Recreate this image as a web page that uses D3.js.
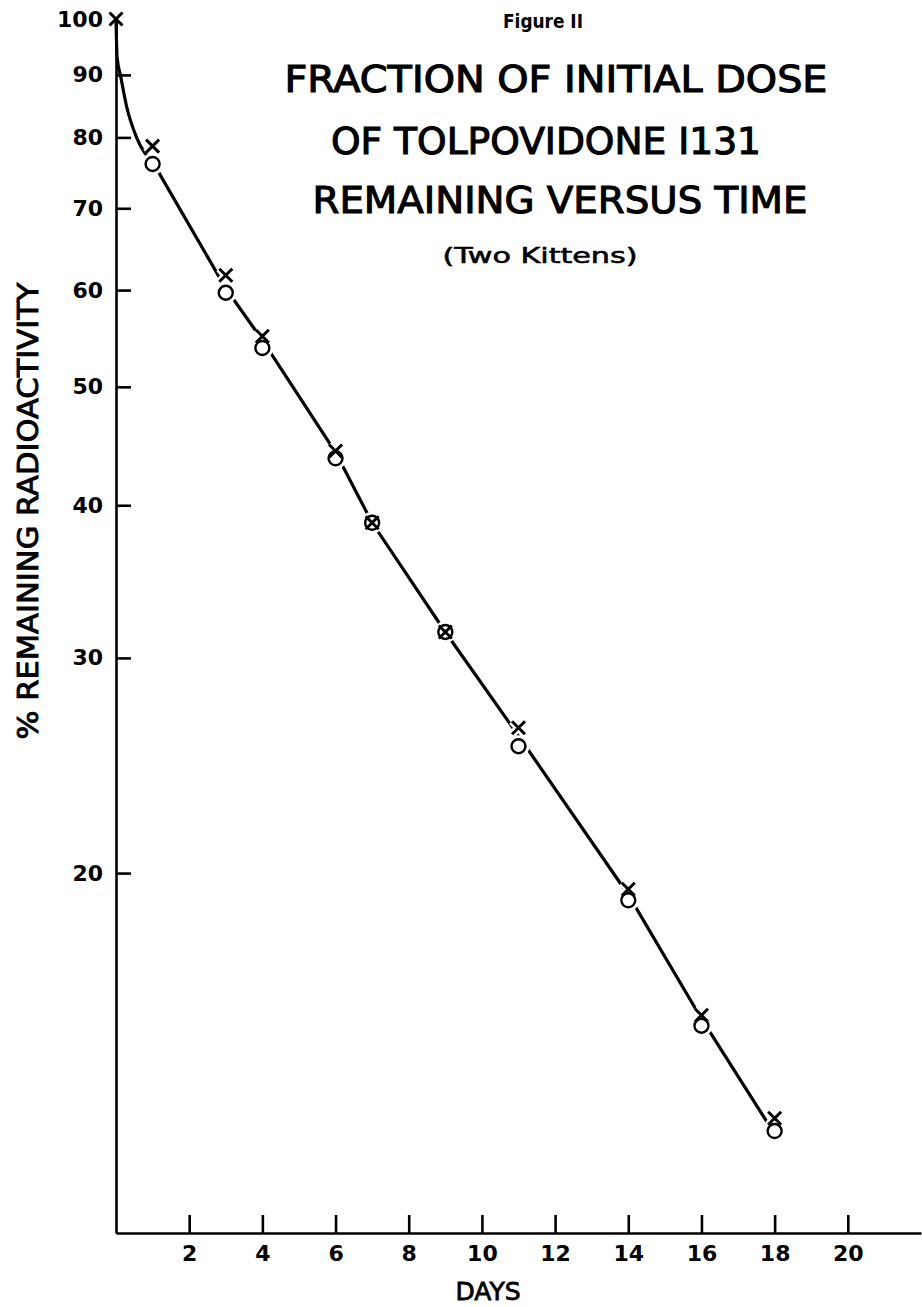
<!DOCTYPE html>
<html>
<head>
<meta charset="utf-8">
<script src="https://cdn.jsdelivr.net/npm/d3@7"></script>
<style>
  body { margin: 0; background: #fff; }
  svg text { font-family: "DejaVu Sans", sans-serif; fill: #000; }
</style>
</head>
<body>
<svg id="chart"></svg>
<script>
// data
var days = [1, 3, 4, 6, 7, 9, 11, 14, 16, 18];
var kittenX = [78.7, 61.7, 55.0, 44.3, 38.7, 31.5, 26.3, 19.4, 15.3, 12.6];   // "x" marks
var kittenO = [76.1, 59.7, 53.8, 43.7, 38.7, 31.5, 25.4, 19.0, 15.0, 12.3];   // circles
var startDay = 0, startValue = 100;

// hand drawn fit line: early curve, then straight pieces
var curveDays = [0, 0.03, 0.13, 0.29, 0.57, 1];
var curveVals = [100, 93, 89.7, 84.8, 79.9, 76.4];
var fitDays = [1, 3, 4, 6, 7, 9, 11, 14, 16, 17.8];
var fitVals = [76.4, 60.2, 54.6, 44.2, 38.7, 31.5, 25.9, 19.2, 15.2, 12.5];

var yTicks = [20, 30, 40, 50, 60, 70, 80, 90, 100];
var xTicks = [2, 4, 6, 8, 10, 12, 14, 16, 18, 20];

var titleLines = ["FRACTION OF INITIAL DOSE", "OF TOLPOVIDONE I131", "REMAINING VERSUS TIME"];
var figLabel = "Figure II";
var subTitle = "(Two Kittens)";
var yTitle = "% REMAINING RADIOACTIVITY";
var xTitle = "DAYS";

var width = 922, height = 1307;

var svg = d3.select("#chart")
    .attr("width", width)
    .attr("height", height);

var x = d3.scaleLinear()
    .domain([0, 22])
    .range([116, 921]);

var y = d3.scaleLog()
    .domain([10.15, 100])
    .range([1233, 19]);

// axes
var xAxis = svg.append("g")
    .attr("transform", "translate(0," + y(10.15) + ")")
    .call(d3.axisBottom(x)
      .tickValues(xTicks)
      .tickSizeInner(-18)
      .tickSizeOuter(0)
      .tickPadding(12)
      .tickFormat(d3.format("d")));

var yAxis = svg.append("g")
    .attr("transform", "translate(" + x(0) + ",0)")
    .call(d3.axisLeft(y)
      .tickValues(yTicks)
      .tickSizeInner(-15)
      .tickSizeOuter(0)
      .tickPadding(15)
      .tickFormat(d3.format("d")));

[xAxis, yAxis].forEach(function(g) {
  g.select(".domain").attr("stroke", "#000").attr("stroke-width", 2.6);
  g.selectAll(".tick line").attr("stroke", "#000").attr("stroke-width", 2.6);
  g.selectAll(".tick text")
      .attr("font-size", 22)
      .attr("font-weight", "bold")
      .style("font-family", "DejaVu Sans, sans-serif");
});
yAxis.selectAll(".tick").filter(d => d === 100).select("line").remove();
yAxis.selectAll(".tick text").attr("x", -13);

// fit line
var curvePts = curveDays.map((d, i) => [d, curveVals[i]]);
var fitPts = fitDays.map((d, i) => [d, fitVals[i]]);

svg.append("path")
    .datum(curvePts)
    .attr("d", d3.line().x(d => x(d[0])).y(d => y(d[1])).curve(d3.curveMonotoneX))
    .attr("fill", "none")
    .attr("stroke", "#000")
    .attr("stroke-width", 3.2);

svg.append("path")
    .datum(fitPts)
    .attr("d", d3.line().x(d => x(d[0])).y(d => y(d[1])))
    .attr("fill", "none")
    .attr("stroke", "#000")
    .attr("stroke-width", 3.2);

// markers
var xs = [[startDay, startValue]].concat(days.map((d, i) => [d, kittenX[i]]));
var os = days.map((d, i) => [d, kittenO[i]]);
var s = 6.5;

function crossPath(d) {
  var cx = x(d[0]), cy = y(d[1]);
  return "M" + (cx - s) + "," + (cy - s) + "L" + (cx + s) + "," + (cy + s) +
         "M" + (cx + s) + "," + (cy - s) + "L" + (cx - s) + "," + (cy + s);
}

// white halos break the line around the marks
svg.append("g").selectAll("circle")
    .data(os)
  .enter().append("circle")
    .attr("cx", d => x(d[0]))
    .attr("cy", d => y(d[1]))
    .attr("r", 7)
    .attr("fill", "#fff")
    .attr("stroke", "#fff")
    .attr("stroke-width", 8);

svg.append("g").selectAll("path")
    .data(xs.slice(1))
  .enter().append("path")
    .attr("d", crossPath)
    .attr("stroke", "#fff")
    .attr("stroke-width", 8);

svg.append("g").selectAll("circle")
    .data(os)
  .enter().append("circle")
    .attr("cx", d => x(d[0]))
    .attr("cy", d => y(d[1]))
    .attr("r", 7)
    .attr("fill", "#fff")
    .attr("stroke", "#000")
    .attr("stroke-width", 2.4);

svg.append("g").selectAll("path")
    .data(xs)
  .enter().append("path")
    .attr("d", crossPath)
    .attr("stroke", "#000")
    .attr("stroke-width", 3);

// titles
svg.append("text")
    .attr("x", 543)
    .attr("y", 28)
    .attr("text-anchor", "middle")
    .attr("font-size", 19)
    .attr("font-weight", "bold")
    .attr("textLength", 80)
    .attr("lengthAdjust", "spacingAndGlyphs")
    .text(figLabel);

var titleX = [556, 546, 560];
var titleLen = [543, 430, 495];
var titleY = [92, 154, 213];
titleLines.forEach(function(t, i) {
  svg.append("text")
      .attr("x", titleX[i])
      .attr("y", titleY[i])
      .attr("text-anchor", "middle")
      .attr("font-size", 37)
      .attr("stroke", "#000")
      .attr("stroke-width", 1.1)
      .attr("textLength", titleLen[i])
      .attr("lengthAdjust", "spacingAndGlyphs")
      .text(t);
});

svg.append("text")
    .attr("x", 540)
    .attr("y", 263)
    .attr("text-anchor", "middle")
    .attr("font-size", 22)
    .attr("stroke", "#000")
    .attr("stroke-width", 0.6)
    .attr("textLength", 195)
    .attr("lengthAdjust", "spacingAndGlyphs")
    .text(subTitle);

svg.append("text")
    .attr("transform", "translate(38,511) rotate(-90)")
    .attr("text-anchor", "middle")
    .attr("font-size", 28)
    .attr("stroke", "#000")
    .attr("stroke-width", 0.9)
    .attr("textLength", 457)
    .attr("lengthAdjust", "spacingAndGlyphs")
    .text(yTitle);

svg.append("text")
    .attr("x", 488)
    .attr("y", 1300)
    .attr("text-anchor", "middle")
    .attr("font-size", 25)
    .attr("stroke", "#000")
    .attr("stroke-width", 0.8)
    .text(xTitle);
</script>
</body>
</html>
